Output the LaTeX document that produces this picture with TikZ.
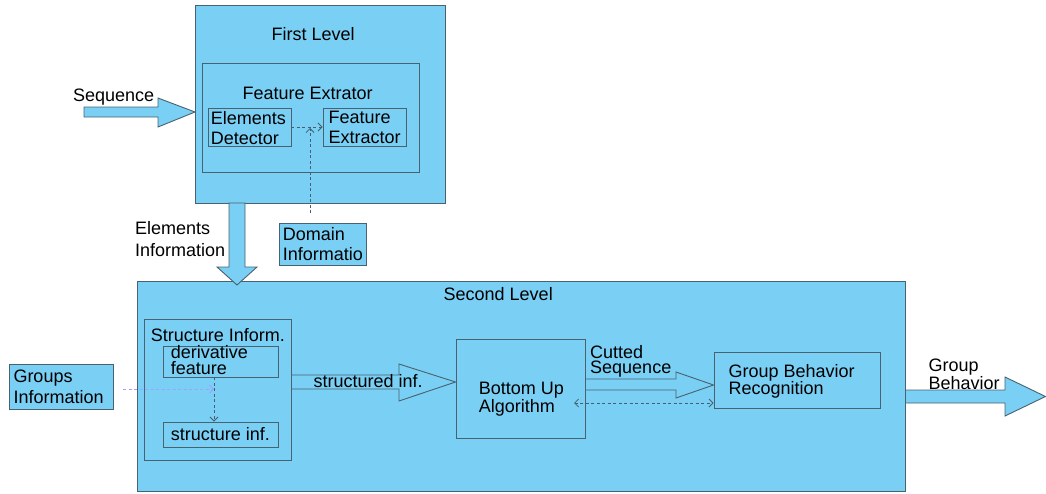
\documentclass[tikz,border=0pt]{standalone}
\usepackage{fontspec}
\setmainfont{Liberation Sans}
\usetikzlibrary{fit,arrows.meta}
\definecolor{fillc}{RGB}{122,207,244}
\definecolor{edgec}{RGB}{72,98,112}
\definecolor{dashc}{RGB}{70,95,110}
\definecolor{purpc}{RGB}{165,160,255}
\tikzset{
  boxr/.style={draw=edgec,fill=fillc,line width=0.9pt,inner sep=0pt},
  blk/.style={draw=edgec,fill=fillc,line width=0.9pt,line join=miter},
  txt/.style={inner sep=0pt,font=\fontsize{18}{20}\selectfont},
  dsh/.style={draw=dashc,dashed,dash pattern=on 3pt off 2.5pt,line width=0.8pt,
    -{Straight Barb[length=4pt,width=8pt]}},
  dsh2/.style={dsh,{Straight Barb[length=4pt,width=8pt]}-{Straight Barb[length=4pt,width=8pt]}},
}
\begin{document}
\begin{tikzpicture}[x=1pt,y=-1pt]
\useasboundingbox (0,0) rectangle (1046,493);
% ---- first level
\node[boxr,fit={(195,5) (445,203)}] (first) {};
\node[boxr,fit={(202,63) (419,172)}] (fext) {};
\node[boxr,fit={(208,108) (291,146)}] (ed) {};
\node[boxr,fit={(323,108) (406,146)}] (fe) {};
\node[boxr,fit={(279,223) (366,265)}] (dom) {};
\node[txt,anchor=base west] (tfirst) at (271.5,40.7) {First Level};
\node[txt,anchor=base west] (tfext) at (242.5,99.3) {Feature Extrator};
\node[txt,anchor=north west,align=left] (ted) at (210.7,111) {Elements\\Detector};
\node[txt,anchor=north west,align=left] (tfe) at (328.3,111) {Feature\\Extractor};
\node[txt,anchor=north west,align=left] (tdom) at (282.7,227.3) {Domain\\Informatio};
\draw[dsh] (ed.east) -- (fe.west);
\coordinate (d1) at (310,213);
\coordinate (d2) at (310,128);
\draw[dsh] (d1) -- (d2);
% sequence arrow
\draw[blk] (84,107) -- (158,107) -- (158,98) -- (195,112) -- (158,127) -- (158,117) -- (84,117) -- cycle;
\node[txt,anchor=base west] (tseq) at (73,101) {Sequence};
% ---- second level
\node[boxr,fit={(137,281) (905,491)}] (second) {};
% elements information arrow
\draw[blk] (229,203) -- (245,203) -- (245,267) -- (257,267) -- (237,285) -- (217,267) -- (229,267) -- cycle;
\node[txt,anchor=north west,align=left,font=\fontsize{18}{22}\selectfont] (tei) at (135,221.3) {Elements\\Information};
\node[txt,anchor=base west] (tsecond) at (443.5,300.7) {Second Level};
\node[boxr,fit={(144,319) (291,460)}] (sinf) {};
\node[boxr,fit={(163,346) (278,377)}] (deriv) {};
\node[boxr,fit={(163,422) (278,447)}] (sinf2) {};
\node[boxr,fit={(9,364) (113,409)}] (groups) {};
\node[boxr,fit={(456,339) (585,438)}] (bu) {};
\node[boxr,fit={(714,352) (880,408)}] (gbr) {};
% block arrows
\draw[blk] (sinf.east |- 0,375) -- (399,375) -- (399,364) -- (bu.west |- 0,382) -- (399,401) -- (399,389) -- (sinf.east |- 0,389) -- cycle;
\draw[blk] (bu.east |- 0,379) -- (676,379) -- (676,372) -- (gbr.west |- 0,385) -- (676,398) -- (676,390) -- (bu.east |- 0,390) -- cycle;
\draw[blk] (second.east |- 0,390) -- (1005,390) -- (1005,377) -- (1045.5,396.5) -- (1005,416) -- (1005,403) -- (second.east |- 0,403) -- cycle;
% texts
\node[txt,anchor=base west] (tsinf) at (150.7,341) {Structure Inform.};
\node[txt,anchor=north west,align=left,font=\fontsize{18}{16}\selectfont] (tderiv) at (170.7,345.3) {derivative\\feature};
\node[txt,anchor=base west] (tsinf2) at (170.7,440) {structure inf.};
\node[txt,anchor=north west,align=left,font=\fontsize{18}{21}\selectfont] (tgroups) at (13.3,369.8) {Groups\\Information};
\node[txt,anchor=base west] (tstr) at (313.3,387.3) {structured inf.};
\node[txt,anchor=north west,align=left,font=\fontsize{18}{16}\selectfont] (tbu) at (478.6,382.1) {Bottom Up\\Algorithm};
\node[txt,anchor=north west,align=left,font=\fontsize{18}{15}\selectfont] (tcut) at (590,345.4) {Cutted\\Sequence};
\node[txt,anchor=north west,align=left,font=\fontsize{18}{16.7}\selectfont] (tgbr) at (728.3,363.8) {Group Behavior\\Recognition};
\node[txt,anchor=north west,align=left,font=\fontsize{18}{14}\selectfont] (tgb) at (928.3,358.8) {Group\\Behavior};
% dashed connectors
\coordinate (gx) at (123,389);
\coordinate (dx) at (214,0);
\draw[dsh,draw=purpc] (gx) -- (dx |- gx);
\draw[dsh] (deriv.south -| dx) -- (sinf2.north -| dx);
\coordinate (bx) at (574,403);
\draw[dsh2] (bx) -- (gbr.west |- bx);
\end{tikzpicture}
\end{document}
